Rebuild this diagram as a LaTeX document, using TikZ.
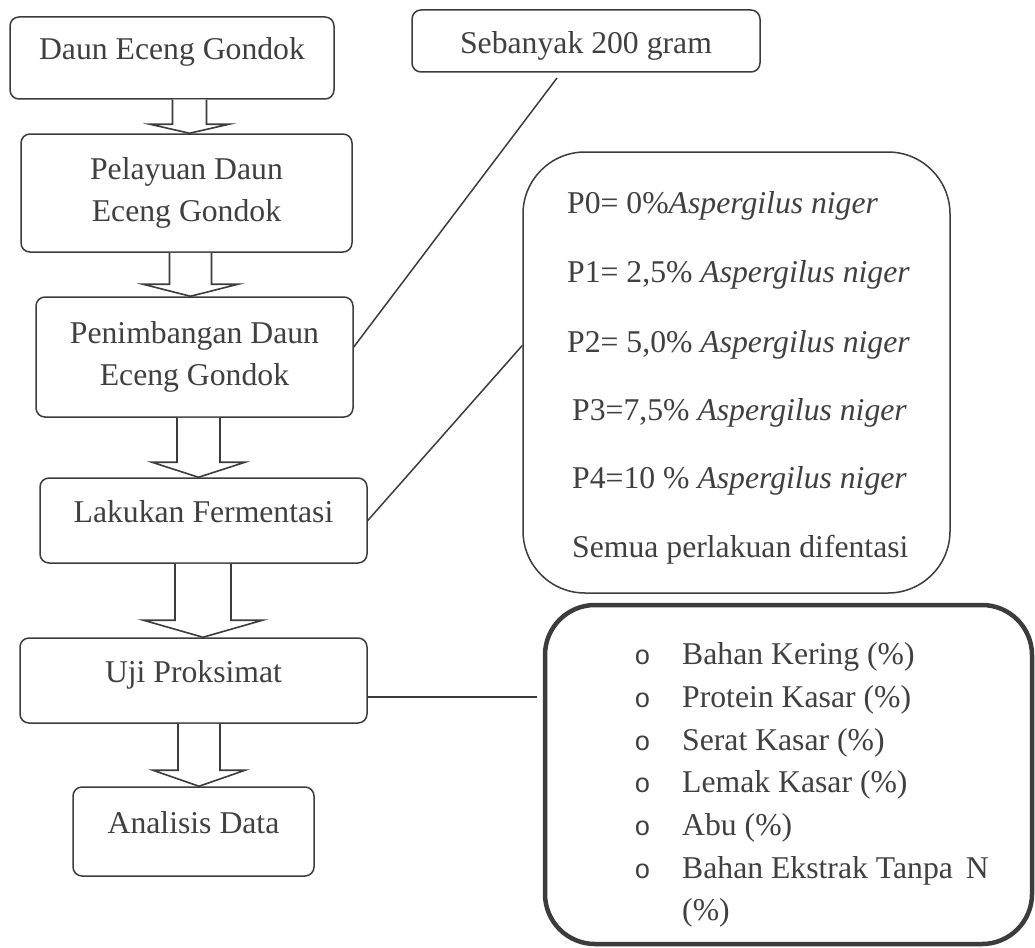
\documentclass[tikz,border=0pt]{standalone}
\usepackage{fontspec}
\setmainfont{Liberation Serif}
\newfontfamily\bulletfam{Liberation Mono}
\usetikzlibrary{calc}
\definecolor{lc}{HTML}{3C3C3C}
\definecolor{tc}{HTML}{404040}
\newcommand\myfs{\fontsize{31.7}{42}\selectfont}
\newcommand\blockarr[6]{% #1 top node, #2 bottom node, #3 centre x, #4 shaft half width, #5 wing half width, #6 head height
  \draw[arr] let \p1=(#1.south), \p2=(#2.north) in
    (#3pt-#4pt,\y1) -- (#3pt-#4pt,\y2+#6pt) -- (#3pt-#5pt,\y2+#6pt) -- (#3pt,\y2)
    -- (#3pt+#5pt,\y2+#6pt) -- (#3pt+#4pt,\y2+#6pt) -- (#3pt+#4pt,\y1);}
\begin{document}
\begin{tikzpicture}[x=1pt,y=-1pt,
  box/.style={draw=lc, line width=1.5pt, rounded corners=9pt, fill=white, text=tc,
    font=\myfs, align=center, inner sep=0pt},
  one/.style={text height=11pt, text depth=7pt},
  arr/.style={draw=lc, line width=1.6pt, fill=white, line join=miter},
  conn/.style={draw=lc, line width=1.5pt},
  txt/.style={text=tc, font=\myfs, inner sep=0pt, anchor=base west},
  bul/.style={text=tc, font=\bulletfam\fontsize{27}{30}\selectfont, inner sep=0pt, anchor=base}]
\useasboundingbox (0,0) rectangle (1035,947);
% left column
\node[box,one,minimum width=324pt,minimum height=82pt] (b1) at (172,58) {Daun Eceng Gondok};
\node[box,minimum width=331pt,minimum height=118pt] (b2) at (186.5,193) {Pelayuan Daun\\Eceng Gondok};
\node[box,minimum width=317pt,minimum height=120pt] (b3) at (194.5,357) {Penimbangan Daun\\Eceng Gondok};
\node[box,one,minimum width=327pt,minimum height=85pt] (b4) at (203.5,520.5) {Lakukan Fermentasi};
\node[box,one,minimum width=347pt,minimum height=85pt] (b5) at (193.5,680.5) {Uji Proksimat};
\node[box,one,minimum width=241pt,minimum height=89pt] (b6) at (193.5,831.5) {Analisis Data};
% block arrows
\blockarr{b1}{b2}{189.5}{17}{39.5}{9}
\blockarr{b2}{b3}{190.5}{21}{47.5}{12}
\blockarr{b3}{b4}{198.5}{21.5}{46.5}{15}
\blockarr{b4}{b5}{203}{28}{59.5}{17}
\blockarr{b5}{b6}{199}{21}{46}{16}
% weight box
\node[box,text height=30pt,text depth=4pt,minimum width=348pt,minimum height=62pt] (sb) at (586,41) {Sebanyak 200 gram};
\coordinate (s1) at (557,78);
\draw[conn] (s1) -- ([yshift=10pt]b3.east);
% treatment box
\node[draw=lc, line width=1.5pt, rounded corners=62pt, fill=white, minimum width=427pt, minimum height=441pt, inner sep=0pt] (pb) at (736.5,372.5) {};
\draw[conn] (b4.east) -- ([yshift=27pt]pb.west);
\node[txt] (p0) at (567,213) {P0= 0\%\textit{Aspergilus niger}};
\node[txt] (p1) at (567,282) {P1= 2,5\% \textit{Aspergilus niger}};
\node[txt] (p2) at (567,352) {P2= 5,0\% \textit{Aspergilus niger}};
\node[txt] (p3) at (572,420) {P3=7,5\% \textit{Aspergilus niger}};
\node[txt] (p4) at (572,488) {P4=10 \% \textit{Aspergilus niger}};
\node[txt] (p5) at (572,557) {Semua perlakuan difentasi};
% proximate box
\node[draw=lc, line width=4.5pt, rounded corners=50pt, fill=white, minimum width=487pt, minimum height=339pt, inner sep=0pt] (bb) at (788.5,774.5) {};
\coordinate (c3) at (537,697);
\draw[conn] ([yshift=-16.5pt]b5.east) -- (c3);
\node[bul] (o1) at (642.5,664) {o};
\node[bul] (o2) at (642.5,707) {o};
\node[bul] (o3) at (642.5,750) {o};
\node[bul] (o4) at (642.5,792) {o};
\node[bul] (o5) at (642.5,835) {o};
\node[bul] (o6) at (642.5,878) {o};
\node[txt] (q1) at (682,664) {Bahan Kering (\%)};
\node[txt] (q2) at (682,707) {Protein Kasar (\%)};
\node[txt] (q3) at (682,750) {Serat Kasar (\%)};
\node[txt] (q4) at (682,792) {Lemak Kasar (\%)};
\node[txt] (q5) at (682,835) {Abu (\%)};
\node[txt] (q6) at (682,878) {Bahan Ekstrak Tanpa\hspace{13pt}N};
\node[txt] (q7) at (682,920) {(\%)};
\end{tikzpicture}
\end{document}
